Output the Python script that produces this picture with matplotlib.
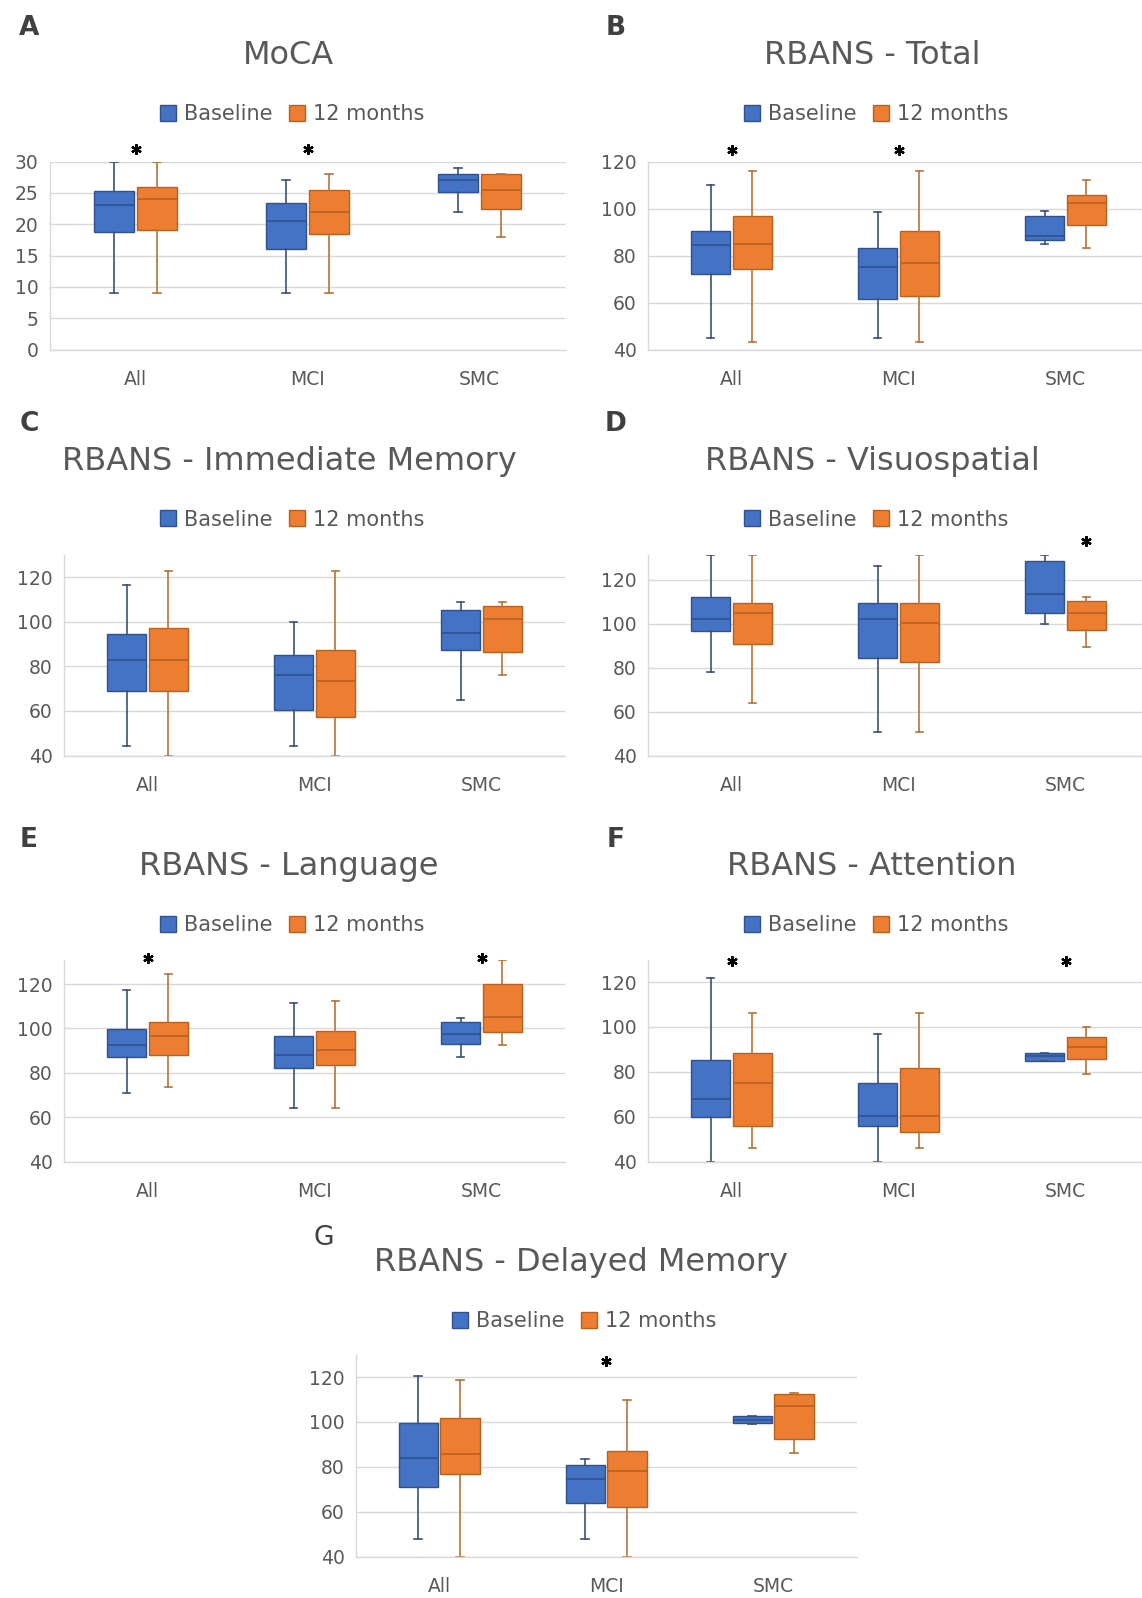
import matplotlib
matplotlib.use('Agg')
import matplotlib.pyplot as plt
from matplotlib.lines import Line2D
import numpy as np

W, H = 1142, 1598
plt.rcParams['font.family'] = ['DejaVu Sans']

groups = ['All', 'MCI', 'SMC']
series = ['Baseline', '12 months']

# five-number summaries per group: [whisker low, Q1, median, Q3, whisker high]
moca_baseline = [[9, 18.8, 23, 25.3, 30], [9, 16, 20.5, 23.3, 27], [22, 25.2, 27, 28, 29]]
moca_12m = [[9, 19, 24, 26, 30], [9, 18.5, 22, 25.5, 28], [18, 22.5, 25.5, 28, 28]]

total_baseline = [[45, 72, 84.3, 90.3, 110], [45, 61.6, 75.3, 83.2, 98.4], [85, 86.8, 88.3, 97, 99]]
total_12m = [[43.2, 74.3, 85, 97, 116], [43.2, 62.8, 77, 90.3, 116], [83, 92.9, 102.4, 105.7, 112]]

immediate_baseline = [[44.2, 69, 83, 94.3, 116.6], [44.2, 60.5, 76, 85.2, 100], [65, 87.1, 95, 105.4, 108.8]]
immediate_12m = [[40, 69, 83, 97, 122.8], [40, 57.1, 73.3, 87.4, 122.8], [76, 86.4, 101.3, 106.8, 108.8]]

visuo_baseline = [[78, 96.4, 102, 112, 131], [50.5, 84.4, 102, 109.4, 126.4], [100, 104.8, 113.6, 128.5, 131]]
visuo_12m = [[63.8, 90.8, 104.8, 109.4, 131], [50.5, 82.3, 100.2, 109.4, 131], [89.4, 97.1, 104.8, 110.2, 112]]

language_baseline = [[71, 87.3, 92.6, 99.5, 117.3], [64, 82.3, 88.2, 96.7, 111.5], [87.3, 93, 97.5, 103, 104.5]]
language_12m = [[73.8, 88, 96.7, 103, 124.4], [64, 83.7, 90.2, 98.7, 112.4], [92.3, 98.4, 105.3, 120, 131]]

attention_baseline = [[40, 60, 68, 85.2, 122], [40, 56, 60.2, 75, 97], [85, 85, 87, 88.2, 88.2]]
attention_12m = [[46.2, 56, 75, 88.2, 106], [46.2, 53, 60.2, 81.8, 106], [79, 85.8, 90.9, 95.6, 100]]

delayed_baseline = [[48, 71, 83.8, 99.7, 120.4], [48, 64, 74.6, 80.8, 83.6], [99, 99.6, 101, 102.6, 102.6]]
delayed_12m = [[40, 76.6, 85.7, 101.8, 118.5], [40, 62, 78.3, 87.2, 109.6], [86, 92.4, 107.3, 112.3, 113]]

# significance markers: (group index, series index or None for group centre, height)
moca_sig = [(0, None, 32), (1, None, 32)]
total_sig = [(0, None, 125), (1, None, 125)]
immediate_sig = []
visuo_sig = [(2, 1, 137.5)]
language_sig = [(0, None, 131.5), (2, None, 131.5)]
attention_sig = [(0, None, 129.5), (2, None, 129.5)]
delayed_sig = [(1, None, 127)]

BLUE, BLUE_E, BLUE_W = '#4472C4', '#2F528F', '#3D5078'
ORANGE, ORANGE_E, ORANGE_W = '#ED7D31', '#B8611F', '#B87338'
GRID = '#D9D9D9'
TXT = '#595959'

fig = plt.figure(figsize=(W / 100, H / 100), dpi=100)


def rect(L, R, top, bottom):
    return [L / W, 1 - bottom / H, (R - L) / W, (bottom - top) / H]


def summary_stats(summ):
    return [dict(whislo=s[0], q1=s[1], med=s[2], q3=s[3], whishi=s[4], label=g)
            for s, g in zip(summ, groups)]


panels = [
    dict(letter='A', title='MoCA', base=moca_baseline, m12=moca_12m, sig=moca_sig,
         box=(49.5, 565.5, 161.5, 349.5), ylim=(0, 30), ticks=np.arange(0, 31, 5),
         letter_xy=(29, 28), title_xy=(288, 56), leg_xy=(292, 114), bold=True),
    dict(letter='B', title='RBANS - Total', base=total_baseline, m12=total_12m, sig=total_sig,
         box=(648, 1149, 161.5, 349.5), ylim=(40, 120), ticks=np.arange(40, 121, 20),
         letter_xy=(616, 28), title_xy=(872, 56), leg_xy=(876, 114), bold=True),
    dict(letter='C', title='RBANS - Immediate Memory', base=immediate_baseline, m12=immediate_12m,
         sig=immediate_sig, box=(64, 565, 554.7, 755.5), ylim=(40, 130), ticks=np.arange(40, 121, 20),
         letter_xy=(29, 424), title_xy=(289, 461.5), leg_xy=(292, 519.5), bold=True),
    dict(letter='D', title='RBANS - Visuospatial', base=visuo_baseline, m12=visuo_12m, sig=visuo_sig,
         box=(648, 1149, 555.4, 755.5), ylim=(40, 131), ticks=np.arange(40, 121, 20),
         letter_xy=(616, 424), title_xy=(872, 461.5), leg_xy=(876, 519.5), bold=True),
    dict(letter='E', title='RBANS - Language', base=language_baseline, m12=language_12m,
         sig=language_sig, box=(64, 565, 959.6, 1161.5), ylim=(40, 131), ticks=np.arange(40, 121, 20),
         letter_xy=(29, 840), title_xy=(289, 867), leg_xy=(292, 925), bold=True),
    dict(letter='F', title='RBANS - Attention', base=attention_baseline, m12=attention_12m,
         sig=attention_sig, box=(648, 1149, 959.6, 1161.5), ylim=(40, 130), ticks=np.arange(40, 121, 20),
         letter_xy=(616, 840), title_xy=(872, 867), leg_xy=(876, 925), bold=True),
    dict(letter='G', title='RBANS - Delayed Memory', base=delayed_baseline, m12=delayed_12m,
         sig=delayed_sig, box=(355.6, 856.6, 1354.6, 1556.6), ylim=(40, 130), ticks=np.arange(40, 121, 20),
         letter_xy=(324, 1238), title_xy=(581, 1263), leg_xy=(584, 1321), bold=False),
]

OFF = 0.125
WID = 0.235

for p in panels:
    ax = fig.add_axes(rect(*p['box']))
    ax.set_axisbelow(True)
    x = np.arange(len(groups))
    for summ, sign, fc, ec, wc in [(p['base'], -1, BLUE, BLUE_E, BLUE_W),
                                   (p['m12'], 1, ORANGE, ORANGE_E, ORANGE_W)]:
        ax.bxp(summary_stats(summ), positions=x + sign * OFF, widths=WID, patch_artist=True,
               showfliers=False, capwidths=0.045, manage_ticks=False,
               boxprops=dict(facecolor=fc, edgecolor=ec, linewidth=1.0),
               whiskerprops=dict(color=wc, linewidth=1.2),
               capprops=dict(color=wc, linewidth=1.2),
               medianprops=dict(color=ec, linewidth=1.2))
    for g, s, yv in p['sig']:
        xs = g if s is None else g + (OFF if s == 1 else -OFF)
        ax.plot([xs], [yv], marker=(6, 2, 0), ms=7.5, mew=1.6, color='black',
                linestyle='none', clip_on=False)
    ax.set_xlim(-0.5, len(groups) - 0.5)
    ax.set_ylim(*p['ylim'])
    ax.set_yticks(p['ticks'])
    ax.set_xticks(x)
    ax.set_xticklabels(groups)
    ax.yaxis.grid(True, color=GRID, linewidth=1.0)
    ax.tick_params(axis='both', length=0, labelsize=13.5, labelcolor=TXT)
    ax.tick_params(axis='x', pad=15)
    ax.tick_params(axis='y', pad=8)
    for side in ['top', 'right']:
        ax.spines[side].set_visible(False)
    for side in ['left', 'bottom']:
        ax.spines[side].set_color(GRID)
        ax.spines[side].set_linewidth(1.0)

    lx, ly = p['letter_xy']
    fig.text(lx / W, 1 - ly / H, p['letter'], ha='center', va='center', fontsize=19,
             fontweight='bold' if p['bold'] else 'normal', color='#404040')
    tx, ty = p['title_xy']
    fig.text(tx / W, 1 - ty / H, p['title'], ha='center', va='center', fontsize=23, color=TXT)
    handles = [Line2D([], [], marker='s', linestyle='none', ms=12, markerfacecolor=BLUE,
                      markeredgecolor=BLUE_E),
               Line2D([], [], marker='s', linestyle='none', ms=12, markerfacecolor=ORANGE,
                      markeredgecolor=ORANGE_E)]
    gx, gy = p['leg_xy']
    fig.legend(handles, series, loc='center', bbox_to_anchor=(gx / W, 1 - gy / H), ncol=2,
               frameon=False, fontsize=15, labelcolor=TXT, handlelength=0.8,
               handletextpad=0.35, columnspacing=0.8, borderpad=0, borderaxespad=0)

fig.savefig('out.png', dpi=100, facecolor='white')
